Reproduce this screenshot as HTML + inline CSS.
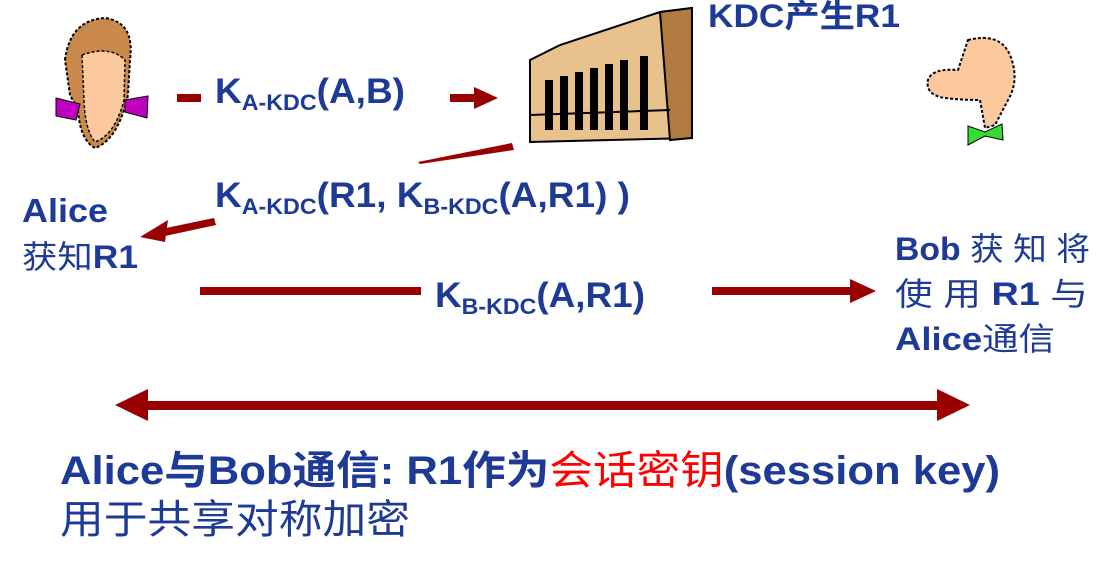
<!DOCTYPE html>
<html><head><meta charset="utf-8"><style>
html,body{margin:0;padding:0;background:#fff;width:1106px;height:562px;overflow:hidden}
svg{display:block}
text{font-family:"Liberation Sans","Noto Sans CJK SC",sans-serif;fill:#1c3a96}
.b{font-weight:bold}
</style></head><body>
<svg width="1106" height="562" viewBox="0 0 1106 562" xmlns="http://www.w3.org/2000/svg">
<!-- Alice face -->
<g>
<path d="M65 60 Q70 20 105 18 Q135 22 130 60 L128 95 Q118 140 95 148 Q80 140 78 110 L70 95 Z" fill="#c8894a" stroke="#000" stroke-width="2" stroke-dasharray="3 2"/>
<path d="M82 55 Q110 45 125 60 L124 100 Q115 135 95 142 Q85 130 84 100 Z" fill="#fbc99d" stroke="#000" stroke-width="1.5" stroke-dasharray="3 2"/>
<path d="M56 98 L80 104 L76 120 L56 116 Z" fill="#c000c0" stroke="#000" stroke-width="1"/>
<path d="M125 100 L148 96 L147 118 L125 112 Z" fill="#c000c0" stroke="#000" stroke-width="1"/>
</g>
<!-- KDC building -->
<g stroke="#000" stroke-width="2">
<path d="M530 60 L560 45 L660 12 L692 8 L692 138 L530 142 Z" fill="#e8c28c"/>
<path d="M660 12 L692 8 L692 138 L670 140 Z" fill="#b07a40"/>
<g fill="#000" stroke="none">
<rect x="545" y="80" width="8" height="50"/><rect x="560" y="76" width="8" height="54"/><rect x="575" y="72" width="8" height="58"/><rect x="590" y="68" width="8" height="62"/><rect x="605" y="64" width="8" height="66"/><rect x="620" y="60" width="8" height="70"/><rect x="640" y="56" width="8" height="74"/>
</g>
<path d="M530 115 L670 110" stroke="#000"/>
</g>
<!-- Bob face -->
<g>
<path d="M968 40 Q1000 32 1010 55 Q1020 80 1008 100 L995 125 L985 128 L980 100 Q960 100 945 98 Q925 95 928 80 Q932 68 958 70 Z" fill="#fbc99d" stroke="#000" stroke-width="2" stroke-dasharray="3 2"/>
<path d="M968 126 L985 132 L1002 124 L1003 140 L985 136 L968 145 Z" fill="#33dd33" stroke="#000" stroke-width="1"/>
</g>

<text x="708" y="27" class="b" font-size="32" textLength="192" lengthAdjust="spacingAndGlyphs">KDC产生R1</text>

<!-- message 1 -->
<rect x="177" y="94" width="24" height="8" fill="#990000"/>
<text x="215" y="103" class="b" font-size="35" textLength="190" lengthAdjust="spacingAndGlyphs">K<tspan font-size="22" dy="7">A-KDC</tspan><tspan dy="-7">(A,B)</tspan></text>
<rect x="450" y="94" width="26" height="8" fill="#990000"/>
<polygon points="474,87 498,98 474,109" fill="#990000"/>

<!-- message 2 -->
<polygon points="512,143 514,150 420,164 418,162" fill="#990000"/>
<text x="215" y="207" class="b" font-size="35" textLength="415" lengthAdjust="spacingAndGlyphs">K<tspan font-size="22" dy="7">A-KDC</tspan><tspan dy="-7">(R1, K</tspan><tspan font-size="22" dy="7">B-KDC</tspan><tspan dy="-7">(A,R1) )</tspan></text>
<polygon points="214,218 216,225 165,236 166,228" fill="#990000"/>
<polygon points="140,237 168,220 165,242" fill="#990000"/>

<text x="22" y="222" class="b" font-size="33" textLength="86" lengthAdjust="spacingAndGlyphs">Alice</text>
<text x="22" y="268" font-size="32" textLength="116" lengthAdjust="spacingAndGlyphs">获知<tspan class="b">R1</tspan></text>

<!-- message 3 -->
<rect x="200" y="287" width="221" height="8" fill="#990000"/>
<text x="435" y="307" class="b" font-size="35" textLength="210" lengthAdjust="spacingAndGlyphs">K<tspan font-size="22" dy="7">B-KDC</tspan><tspan dy="-7">(A,R1)</tspan></text>
<rect x="712" y="287" width="140" height="8" fill="#990000"/>
<polygon points="850,279 876,291 850,303" fill="#990000"/>

<text x="895" y="260" font-size="32" textLength="195" lengthAdjust="spacingAndGlyphs"><tspan class="b">Bob</tspan> 获 知 将</text>
<text x="895" y="305" font-size="32" textLength="193" lengthAdjust="spacingAndGlyphs">使 用 <tspan class="b">R1</tspan> 与</text>
<text x="895" y="350" font-size="32" textLength="160" lengthAdjust="spacingAndGlyphs"><tspan class="b">Alice</tspan>通信</text>

<!-- double arrow -->
<rect x="140" y="401" width="805" height="9" fill="#990000"/>
<polygon points="115,405 148,389 148,421" fill="#990000"/>
<polygon points="970,405 937,389 937,421" fill="#990000"/>

<text x="60" y="484" class="b" font-size="40" textLength="940" lengthAdjust="spacingAndGlyphs">Alice与Bob通信: R1作为<tspan fill="#ff0000" font-weight="normal">会话密钥</tspan>(session key)</text>
<text x="60" y="533" font-size="40" textLength="350" lengthAdjust="spacingAndGlyphs">用于共享对称加密</text>
</svg>
</body></html>
